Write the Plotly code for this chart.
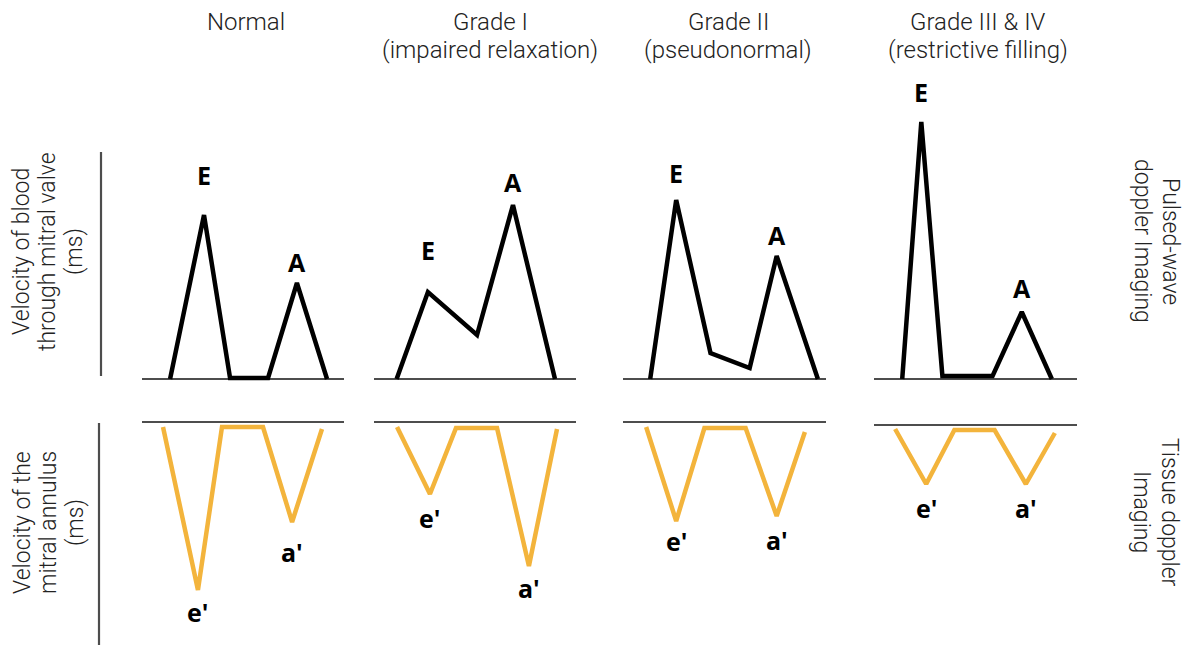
import plotly.graph_objects as go

W, H = 1185, 645

grades = ["Normal", "Grade I", "Grade II", "Grade III &amp; IV"]
subtitles = ["", "(impaired relaxation)", "(pseudonormal)", "(restrictive filling)"]

# Pulsed-wave Doppler (mitral inflow velocity, arbitrary units) vs time (% of panel)
mv_normal_t = [13.9, 30.7, 43.6, 62.4, 76.7, 91.6]
mv_normal_v = [0, 82, 0.5, 0.5, 48, 0]
mv_grade1_t = [11.2, 26.7, 51.0, 68.8, 89.6]
mv_grade1_v = [0, 43.5, 22, 87, 0]
mv_grade2_t = [13.4, 26.2, 43.1, 62.4, 75.7, 96.0]
mv_grade2_v = [0, 89.5, 13, 5.5, 61.5, 0]
mv_grade3_t = [13.9, 23.3, 33.7, 58.4, 72.8, 87.6]
mv_grade3_v = [0, 128.5, 1.5, 1.5, 33.5, 0]

# Tissue Doppler (mitral annulus velocity, arbitrary units) vs time (% of panel)
ta_normal_t = [10.4, 27.7, 39.6, 59.9, 74.3, 89.1]
ta_normal_v = [-2.5, -84, -2.5, -2.5, -50, -3.5]
ta_grade1_t = [11.4, 27.7, 40.6, 60.9, 76.7, 90.6]
ta_grade1_v = [-2.5, -36, -3, -3, -72, -3.5]
ta_grade2_t = [11.4, 26.2, 40.1, 60.4, 75.7, 89.6]
ta_grade2_v = [-2.5, -49.5, -3, -3, -47, -5]
ta_grade3_t = [10.4, 25.7, 39.6, 59.4, 74.8, 89.1]
ta_grade3_v = [-2, -29.5, -2.5, -2.5, -29.5, -4]

mv_series = [(mv_normal_t, mv_normal_v), (mv_grade1_t, mv_grade1_v),
             (mv_grade2_t, mv_grade2_v), (mv_grade3_t, mv_grade3_v)]
ta_series = [(ta_normal_t, ta_normal_v), (ta_grade1_t, ta_grade1_v),
             (ta_grade2_t, ta_grade2_v), (ta_grade3_t, ta_grade3_v)]

# index of E / A peaks and e' / a' troughs in each series
mv_peak_idx = [(1, 4), (1, 3), (1, 4), (1, 4)]
ta_peak_idx = [(1, 4), (1, 4), (1, 4), (1, 4)]

left_top_lines = ["Velocity of blood", "through mitral valve", "(ms)"]
left_bot_lines = ["Velocity of the", "mitral annulus", "(ms)"]
right_top_lines = ["Pulsed-wave", "doppler Imaging"]
right_bot_lines = ["Tissue doppler", "Imaging"]

# ---------- layout helpers (pixel -> paper) ----------
def px(x):
    return x / W

def py(y):
    return 1 - y / H

panel_px = [(142, 344), (374, 576), (623, 826), (874, 1077)]
top_zero_px = 379
bot_zero_px = [422, 422, 422, 425]
unit_px = 2.0
top_range = [-3, 140]
bot_range = [-105, 3]

# label offsets (px) from the peak
mv_label_shift = [(40, 21), (42, 23), (27, 21), (30, 24)]
ta_label_shift = [(22, 30), (24, 22), (20, 24), (24, 24)]

BLACK = "#000000"
ORANGE = "#F3B43C"
GRID = "#4d4d4d"
TXT = "#222222"

fig = go.Figure()
layout = dict(
    width=W, height=H,
    margin=dict(l=0, r=0, t=0, b=0),
    paper_bgcolor="white", plot_bgcolor="white",
    showlegend=False,
)

annotations = []

for i in range(4):
    for row in range(2):
        k = i + 1 + 4 * row
        xname = "x" if k == 1 else f"x{k}"
        yname = "y" if k == 1 else f"y{k}"
        x0, x1 = panel_px[i]
        if row == 0:
            zero = top_zero_px
            rng = top_range
            t, v = mv_series[i]
            color = BLACK
        else:
            zero = bot_zero_px[i]
            rng = bot_range
            t, v = ta_series[i]
            color = ORANGE
        ytop = zero - rng[1] * unit_px
        ybot = zero - rng[0] * unit_px
        layout[f"xaxis{'' if k == 1 else k}"] = dict(
            domain=[px(x0), px(x1)], range=[0, 100], visible=False,
            anchor=yname, fixedrange=True,
        )
        layout[f"yaxis{'' if k == 1 else k}"] = dict(
            domain=[py(ybot), py(ytop)], range=rng, anchor=xname,
            showgrid=False, showline=False, showticklabels=False, ticks="",
            zeroline=True, zerolinecolor=GRID, zerolinewidth=2.2,
            fixedrange=True,
        )
        fig.add_trace(go.Scatter(
            x=t, y=v, mode="lines", xaxis=xname, yaxis=yname,
            line=dict(color=color, width=4.5), hoverinfo="skip",
        ))
        if row == 0:
            names = ["E", "A"]
            idxs = mv_peak_idx[i]
            shifts = mv_label_shift[i]
            sign = 1
        else:
            names = ["e'", "a'"]
            idxs = ta_peak_idx[i]
            shifts = ta_label_shift[i]
            sign = -1
        for name, j, s in zip(names, idxs, shifts):
            annotations.append(dict(
                x=t[j], y=v[j], xref=xname, yref=yname,
                text=f"<b>{name}</b>", showarrow=False,
                yshift=sign * s, xanchor="center", yanchor="middle",
                font=dict(family="Open Sans", size=25, color=BLACK),
            ))

# column titles
title_font = dict(family="Roboto", size=24, color=TXT, weight=300)
title_x = [246, 490, 728, 978]
for i in range(4):
    annotations.append(dict(
        x=px(title_x[i]), y=py(22), xref="paper", yref="paper",
        text=grades[i], showarrow=False, xanchor="center", yanchor="middle",
        font=title_font,
    ))
    if subtitles[i]:
        annotations.append(dict(
            x=px(title_x[i]), y=py(50), xref="paper", yref="paper",
            text=subtitles[i], showarrow=False, xanchor="center", yanchor="middle",
            font=title_font,
        ))

# side titles (one annotation per line for tight line spacing)
side_font = dict(family="Roboto", size=23, color=TXT, weight=300)
for lines, xs, yc, ang in [
    (left_top_lines, [22, 48, 75], 252, -90),
    (left_bot_lines, [22, 48, 75], 523, -90),
    (right_top_lines, [1170, 1142], 241, 90),
    (right_bot_lines, [1170, 1142], 512, 90),
]:
    for text, xc in zip(lines, xs):
        annotations.append(dict(
            x=px(xc), y=py(yc), xref="paper", yref="paper", textangle=ang,
            text=text, showarrow=False, xanchor="center", yanchor="middle",
            font=side_font,
        ))

layout["annotations"] = annotations
layout["shapes"] = [
    dict(type="line", xref="paper", yref="paper", x0=px(101), x1=px(101),
         y0=py(152), y1=py(376), line=dict(color=GRID, width=2.2)),
    dict(type="line", xref="paper", yref="paper", x0=px(99), x1=px(99),
         y0=py(423), y1=py(645), line=dict(color=GRID, width=2.2)),
]

fig.update_layout(**layout)
fig.write_html(
    "out.html",
    config={"displayModeBar": False},
    post_script="document.body.style.margin='0';document.body.style.overflow='hidden';",
)
